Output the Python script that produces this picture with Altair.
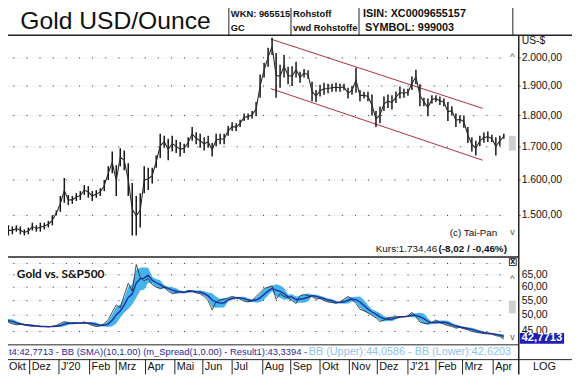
import altair as alt
import pandas as pd

# ---------------- data ----------------
first_day = -22      # weekday index of first bar (0 = first weekday of Dec 2019)
bar_step = 3         # weekdays per plotted bar

gold_high = [1513, 1500, 1473, 1470, 1473, 1470, 1462, 1467, 1480, 1473, 1480, 1480, 1485, 1500, 1513,
             1554, 1606, 1557, 1554, 1562, 1568, 1585, 1582, 1568, 1571, 1576, 1600, 1641, 1686, 1644,
             1696, 1689, 1650, 1591, 1554, 1562, 1641, 1636, 1636, 1673, 1741, 1735, 1725, 1735, 1722,
             1715, 1710, 1730, 1763, 1746, 1741, 1730, 1735, 1712, 1741, 1741, 1741, 1766, 1778, 1775,
             1786, 1807, 1807, 1815, 1845, 1940, 1982, 2037, 2075, 2018, 1975, 2011, 1968, 1970, 1986,
             1950, 1960, 1955, 1915, 1886, 1904, 1911, 1908, 1908, 1911, 1908, 1908, 1894, 1900, 1964,
             1886, 1880, 1880, 1871, 1815, 1830, 1864, 1871, 1868, 1881, 1898, 1890, 1890, 1933, 1957,
             1906, 1860, 1857, 1868, 1868, 1864, 1857, 1845, 1831, 1807, 1800, 1800, 1763, 1730, 1719,
             1735, 1745, 1748, 1738, 1730, 1735, 1741]
gold_low = [1488, 1470, 1446, 1449, 1456, 1449, 1446, 1449, 1459, 1456, 1456, 1462, 1467, 1473, 1500,
            1510, 1535, 1529, 1532, 1540, 1543, 1557, 1549, 1540, 1549, 1554, 1568, 1600, 1620, 1554,
            1641, 1629, 1554, 1446, 1446, 1467, 1562, 1571, 1590, 1636, 1666, 1697, 1659, 1686, 1681,
            1670, 1681, 1697, 1719, 1708, 1697, 1689, 1697, 1670, 1702, 1708, 1708, 1735, 1750, 1750,
            1763, 1782, 1786, 1790, 1798, 1860, 1930, 1968, 2011, 1860, 1894, 1930, 1906, 1900, 1930,
            1911, 1930, 1925, 1848, 1845, 1864, 1870, 1875, 1880, 1880, 1880, 1885, 1857, 1870, 1877,
            1848, 1857, 1848, 1800, 1763, 1775, 1815, 1825, 1820, 1842, 1857, 1860, 1866, 1886, 1906,
            1831, 1831, 1798, 1840, 1845, 1835, 1831, 1782, 1800, 1763, 1775, 1760, 1712, 1686, 1673,
            1703, 1713, 1715, 1715, 1673, 1703, 1725]

gold_vs_spx = [48.8, 48.3, 47.8, 47.3, 47.0, 47.2, 46.9, 46.7, 46.5, 46.6, 46.4, 46.5, 46.3, 46.6, 46.8,
               47.4, 48.0, 47.6, 47.3, 47.5, 47.6, 47.9, 47.3, 46.8, 46.5, 46.7, 47.4, 48.6, 51.0, 53.5,
               52.5, 57.0, 61.5, 58.5, 69.5, 64.0, 62.5, 63.5, 61.0, 60.0, 59.5, 60.0, 58.5, 57.5, 58.0,
               58.5, 58.0, 58.8, 58.5, 57.8, 57.5, 56.5, 55.0, 51.8, 54.5, 55.2, 55.5, 56.0, 56.5, 56.0,
               55.5, 54.8, 54.5, 55.0, 56.5, 58.0, 59.5, 60.0, 60.5, 55.5, 57.5, 56.5, 56.0, 55.0, 54.0,
               56.8, 57.2, 56.8, 56.5, 55.5, 55.8, 55.0, 54.5, 54.3, 54.0, 54.5, 55.5, 56.5, 55.5, 54.0,
               52.0, 51.5, 50.8, 50.0, 49.2, 48.0, 48.5, 49.2, 49.4, 49.5, 49.6, 49.6, 49.8, 51.0, 49.5,
               47.8, 47.5, 47.3, 47.8, 48.5, 47.7, 47.2, 46.8, 46.5, 46.0, 46.2, 45.8, 45.5, 45.0, 44.8,
               44.6, 44.4, 44.3, 44.2, 43.8, 43.6, 42.8]

month_labels = ["Okt", "Dez", "J'20", "Feb", "Mrz", "Apr", "Mai", "Jun", "Jul", "Aug",
                "Sep", "Okt", "Nov", "Dez", "J'21", "Feb", "Mrz", "Apr"]
month_start = [-22, 0, 22, 45, 65, 87, 109, 130, 152, 175, 196, 218, 240, 261, 284, 305, 325, 348]

price_ticks = [1500, 1600, 1700, 1800, 1900, 2000]
price_tick_labels = ["1.500,00", "1.600,00", "1.700,00", "1.800,00", "1.900,00", "2.000,00"]
ratio_ticks = [45, 50, 55, 60, 65]
ratio_tick_labels = ["45,00", "50,00", "55,00", "60,00", "65,00"]
ratio_grid = [45, 50, 55, 60, 65, 70]

channel_day = [181, 340]
channel_upper = [2070, 1824]
channel_lower = [1891, 1659]

last_ratio_label = "42,7713"

# ---------------- tables ----------------
n = len(gold_high)
days = [first_day + bar_step * k for k in range(n)]
bars = pd.DataFrame({"day": days, "hi": gold_high, "lo": gold_low})
rat = pd.DataFrame({"day": days[:len(gold_vs_spx)], "r": gold_vs_spx})
months = pd.DataFrame({"day": month_start, "lab": month_labels})
pgrid = pd.DataFrame({"v": price_ticks, "lab": price_tick_labels, "a": -22.2, "b": 357.6})
rgrid = pd.DataFrame({"v": ratio_grid, "a": -22.2, "b": 357.6})
rlabs = pd.DataFrame({"v": ratio_ticks, "lab": ratio_tick_labels})
chan = pd.DataFrame({
    "day": channel_day + channel_day,
    "p": channel_upper + channel_lower,
    "g": ["u", "u", "l", "l"],
})
one = pd.DataFrame({"k": [0]})

# ---------------- layout ----------------
OFF = 8
W, H = 580 - OFF, 377 - OFF


def P(v):
    return v - OFF


FONT = "Liberation Sans"

xs = alt.Scale(domain=[-22.2, 367.2], range=[P(0), P(526)], zero=False, nice=False)
ys_main = alt.Scale(type="log", domain=[1389.9, 2084.6], range=[P(258), P(33)], nice=False)
ys_low = alt.Scale(type="log", domain=[41.27, 72.95], range=[P(347), P(258)], nice=False)

layers = []

# grids
for sc, df in ((ys_main, pgrid), (ys_low, rgrid)):
    layers.append(alt.Chart(df).mark_rule(strokeDash=[1, 2], color="#dcdcdc", strokeWidth=1).encode(
        x=alt.X("a:Q", scale=xs, axis=None), x2="b:Q", y=alt.Y("v:Q", scale=sc, axis=None)))
    layers.append(alt.Chart(df).mark_rule(strokeDash=[1, 12.33], color="#303030", strokeWidth=1).encode(
        x=alt.X("a:Q", scale=xs, axis=None), x2="b:Q", y=alt.Y("v:Q", scale=sc, axis=None)))

# trend channel
layers.append(alt.Chart(chan).mark_line(color="#a8323a", strokeWidth=1).encode(
    x=alt.X("day:Q", scale=xs, axis=None), y=alt.Y("p:Q", scale=ys_main, axis=None), detail="g:N"))

# gold price bars
layers.append(alt.Chart(bars).mark_rule(color="#151515", strokeWidth=1.5).encode(
    x=alt.X("day:Q", scale=xs, axis=None), y=alt.Y("hi:Q", scale=ys_main, axis=None), y2="lo:Q"))
layers.append(alt.Chart(bars).transform_calculate(mid="sqrt(datum.hi*datum.lo)").mark_line(
    color="#2a2a2a", strokeWidth=1.1).encode(
    x=alt.X("day:Q", scale=xs, axis=None), y=alt.Y("mid:Q", scale=ys_main, axis=None)))

# gold vs S&P500 with Bollinger band (SMA +- 1 sd)
bb = alt.Chart(rat).transform_window(
    sma="mean(r)", sd="stdev(r)", frame=[-3, 0], sort=[alt.SortField("day")]
).transform_calculate(
    s="isValid(datum.sd) ? datum.sd : 0"
).transform_calculate(
    up="datum.sma + datum.s", dn="datum.sma - datum.s"
)
layers.append(bb.mark_area(color="#45b3ec", opacity=1).encode(
    x=alt.X("day:Q", scale=xs, axis=None), y=alt.Y("up:Q", scale=ys_low, axis=None), y2="dn:Q"))
layers.append(alt.Chart(rat).mark_line(color="#1e1e1e", strokeWidth=0.8).encode(
    x=alt.X("day:Q", scale=xs, axis=None), y=alt.Y("r:Q", scale=ys_low, axis=None)))
layers.append(bb.mark_line(color="#1f2d9a", strokeWidth=1.4).encode(
    x=alt.X("day:Q", scale=xs, axis=None), y=alt.Y("sma:Q", scale=ys_low, axis=None)))

# tick labels
layers.append(alt.Chart(pgrid).mark_text(align="left", baseline="middle", font=FONT, fontSize=10.5,
                                         color="#111").encode(
    x=alt.value(P(529)), y=alt.Y("v:Q", scale=ys_main, axis=None), text="lab:N"))
layers.append(alt.Chart(pgrid).mark_tick(color="#111", size=2, thickness=1, orient="horizontal").encode(
    x=alt.value(P(527)), y=alt.Y("v:Q", scale=ys_main, axis=None)))
layers.append(alt.Chart(rlabs).mark_text(align="left", baseline="middle", font=FONT, fontSize=10.5,
                                         color="#111").encode(
    x=alt.value(P(529)), y=alt.Y("v:Q", scale=ys_low, axis=None), text="lab:N"))

# month row
layers.append(alt.Chart(months).mark_rule(color="#222", strokeWidth=1).encode(
    x=alt.X("day:Q", scale=xs, axis=None), y=alt.value(P(362)), y2=alt.value(P(377))))
# first label sits on the window edge; keep it readable inside the visible page area
layers.append(alt.Chart(months).transform_filter("datum.day > -22").mark_text(
    align="left", baseline="middle", font=FONT, fontSize=11, color="#111", dx=2).encode(
    x=alt.X("day:Q", scale=xs, axis=None), y=alt.value(P(370)), text="lab:N"))
layers.append(alt.Chart(months).transform_filter("datum.day == -22").mark_text(
    align="left", baseline="middle", font=FONT, fontSize=11, color="#111").encode(
    x=alt.value(P(9)), y=alt.value(P(370)), text="lab:N"))

# frame lines (layout)
hlines = [(0, 580, 33, 1.5), (0, 526, 258, 1.5), (0, 526, 347, 1), (0, 580, 362, 1)]
vlines = [(526, 33, 377, 1.5), (232, 0, 33, 1), (295, 0, 33, 1), (364, 0, 33, 1), (520, 0, 33, 1)]
for x0, x1, y, w in hlines:
    layers.append(alt.Chart(one).mark_rule(color="#222", strokeWidth=w).encode(
        x=alt.value(P(x0)), x2=alt.value(P(x1)), y=alt.value(P(y))))
for x, y0, y1, w in vlines:
    layers.append(alt.Chart(one).mark_rule(color="#222", strokeWidth=w).encode(
        x=alt.value(P(x)), y=alt.value(P(y0)), y2=alt.value(P(y1))))


def rect(x0, x1, y0, y1, fill, stroke=None):
    kw = dict(color=fill)
    if stroke:
        kw = dict(fill=fill, stroke=stroke, strokeWidth=1)
    return alt.Chart(one).mark_rect(**kw).encode(
        x=alt.value(P(x0)), x2=alt.value(P(x1)), y=alt.value(P(y0)), y2=alt.value(P(y1)))


def label(text, x, y, size=10, weight="normal", color="#111", align="left", font=FONT):
    return alt.Chart(one).mark_text(align=align, baseline="middle", font=font, fontSize=size,
                                    fontWeight=weight, color=color).encode(
        x=alt.value(P(x)), y=alt.value(P(y)), text=alt.value(text))


# scroll widgets
layers.append(rect(516, 523, 135, 150, "#cfcfcf"))
layers.append(rect(516, 523, 302, 315, "#cfcfcf"))
layers.append(rect(516.5, 523.5, 259.5, 266.5, "#ffffff", "#333"))
layers.append(label("x", 520, 262.5, size=9, align="center", weight="bold"))
for y in (53, 278):
    layers.append(label("^", 519.5, y + 2, size=10, align="center", color="#555"))
for y in (233, 339):
    layers.append(label("v", 519.5, y, size=9, align="center", color="#555"))

# last value box (covers the lower half of the 45,00 label, as in the original)
layers.append(rect(527, 572, 335, 346, "#1d1db8"))
layers.append(label(last_ratio_label, 549.5, 340.5, size=11.5, weight="bold", color="white", align="center"))

# header
layers.append(label("Gold USD/Ounce", 117, 19, size=25, align="center"))
layers.append(label("WKN: 965515", 234, 12, size=9.5, weight="bold"))
layers.append(label("GC", 234, 26, size=9.5, weight="bold"))
layers.append(label("Rohstoff", 297, 12, size=9.5, weight="bold"))
layers.append(label("vwd Rohstoffe", 297, 26, size=9.5, weight="bold"))
layers.append(label("ISIN: XC0009655157", 368, 12, size=11, weight="bold"))
layers.append(label("SYMBOL: 999003", 370, 26, size=11, weight="bold"))

# texts in panels
layers.append(label("US-$", 529, 39, size=10.5))
layers.append(label("(c) Tai-Pan", 456, 234, size=10))
layers.append(label("Kurs:1.734,46", 381, 250, size=10))
layers.append(label("(-8,02 / -0,46%)", 514, 250, size=10, weight="bold", align="right"))
layers.append(label("Gold vs. S&P500", 17, 275, size=12, weight="bold", font="Lato"))
layers.append(label("t4:42,7713 - BB (SMA)(10,1.00)  (m_Spread(1,0.00) - Result1):43,3394 -",
                    9, 354, size=9.5, color="#2a2a9a"))
layers.append(label("BB (Upper):44,0586 - BB (Lower):42,6203", 313, 354, size=11, color="#8cc3ea"))
layers.append(label("LOG", 552, 370, size=11, align="center"))

chart = alt.layer(*layers).resolve_scale(x="independent", y="independent").properties(
    width=W, height=H, padding=0, autosize=alt.AutoSizeParams(type="none"), background="white"
).configure_view(strokeWidth=0)

chart.save("out.html", embed_options={"renderer": "svg", "actions": False})
